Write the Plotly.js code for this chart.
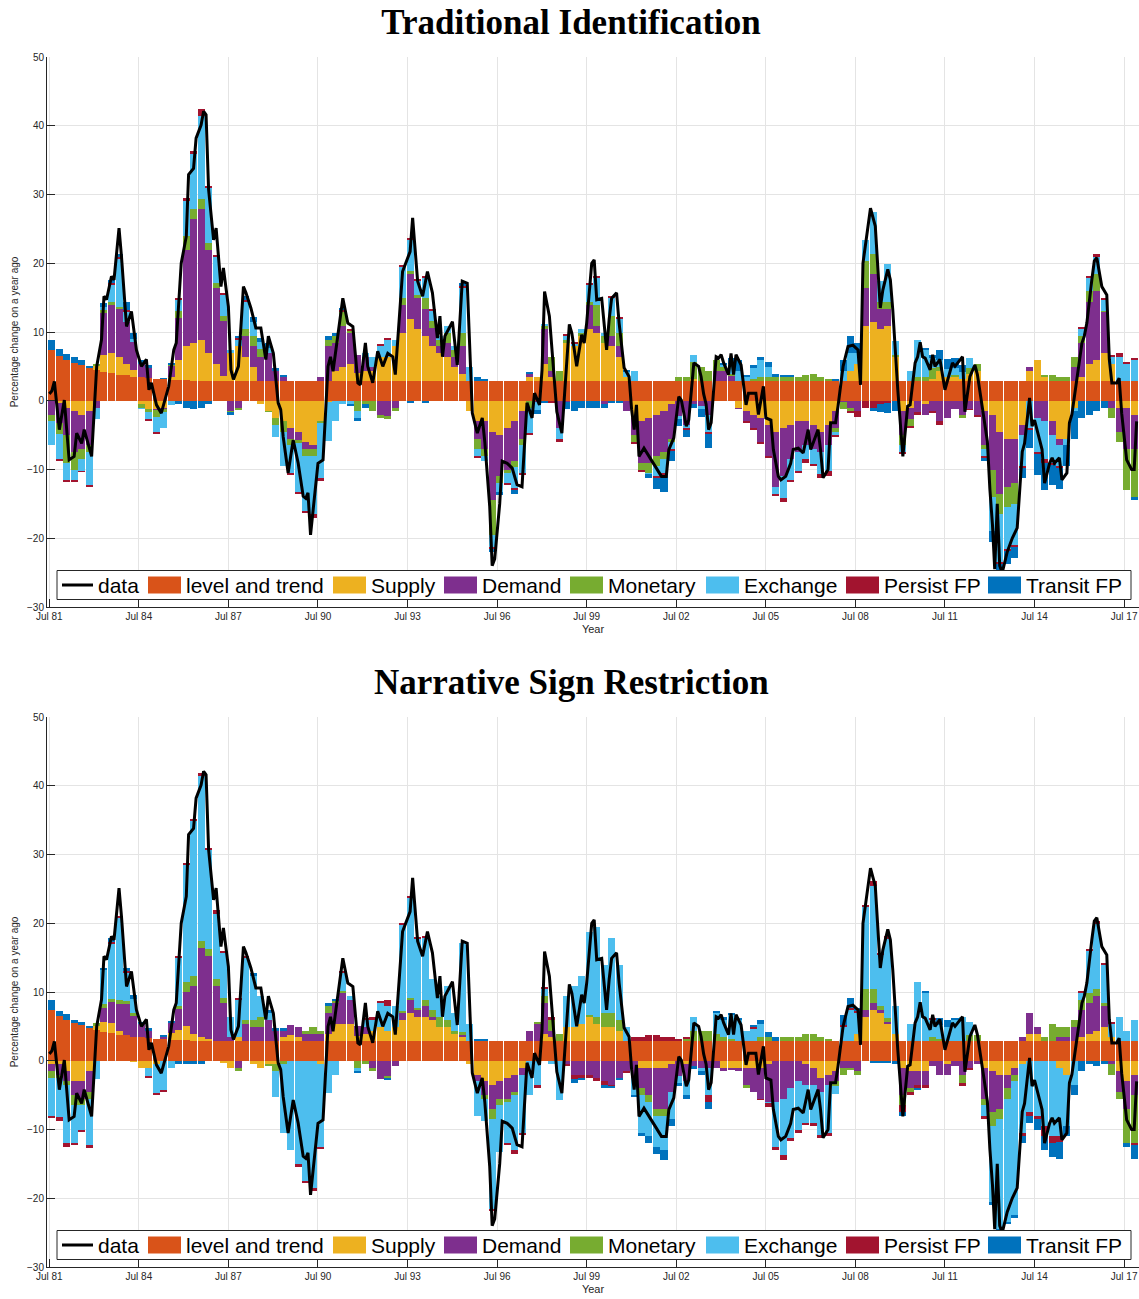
<!DOCTYPE html>
<html><head><meta charset="utf-8">
<script src="https://cdn.plot.ly/plotly-3.0.1.min.js"></script>
<style>html,body{margin:0;padding:0;background:#fff}#chart{width:1139px;height:1299px}</style>
</head><body><div id="chart"></div>
<script>
// ---------- DATA (quarterly, starting Jul 1981) ----------
const tickLabels = ['Jul 81','Jul 84','Jul 87','Jul 90','Jul 93','Jul 96','Jul 99','Jul 02','Jul 05','Jul 08','Jul 11','Jul 14','Jul 17'];
const seriesNames = ['level and trend','Supply','Demand','Monetary','Exchange','Persist FP','Transit FP'];
const seriesColors = ['#D95319','#EDB120','#7E2F8E','#77AC30','#4DBEEE','#A2142F','#0072BD'];

const levelTrend = [7.4,6.5,6.0,5.5,5.2,4.8,4.5,4.2,4.0,3.8,
3.7,3.5,3.4,3.3,3.2,3.1,3.0,3.0,3.0,2.9,
2.9,2.9,2.9,2.9,2.9,2.9,2.9,2.9,2.9,2.9,
2.9,2.9,2.9,2.9,2.9,2.9,2.9,2.9,2.9,2.9,
2.9,2.9,2.9,2.9,2.9,2.9,2.9,2.9,2.9,2.9,
2.9,2.9,2.9,2.9,2.9,2.9,2.9,2.9,2.9,2.9,
2.9,2.9,2.9,2.9,2.9,2.9,2.9,2.9,2.9,2.9,
2.9,2.9,2.9,2.9,2.9,2.9,2.9,2.9,2.9,2.9,
2.9,2.9,2.9,2.9,2.9,2.9,2.9,2.9,2.9,2.9,
2.9,2.9,2.9,2.9,2.9,2.9,2.9,2.9,2.9,2.9,
2.9,2.9,2.9,2.9,2.9,2.9,2.9,2.9,2.9,2.9,
2.9,2.9,2.9,2.9,2.9,2.9,2.9,2.9,2.9,2.9,
2.9,2.9,2.9,2.9,2.9,2.9,2.9,2.9,2.9,2.9,
2.9,2.9,2.9,2.9,2.9,2.9,2.9,2.9,2.9,2.9,
2.9,2.9,2.9,2.9,2.9,2.9];

// Traditional identification
const supplyT = [0,-0.3,-1,-1.5,-2,-1.5,0.5,2.5,3,2.5,
1.7,1.0,-0.5,-1.2,-1.2,-1,0.5,3,5,5.5,
6,4,2.5,0.7,4,5,3.5,2,-0.5,-1.5,
-2.5,-3,-4,-4.5,-6,-6.5,-3,-0.2,1.5,2,
2.5,1.2,1.5,1.5,3.5,3.5,5,7,9,7.5,
6.5,5,4,3.5,2,1,-1.5,-3,-3,-4.5,
-5,-4,-3,-1.5,0.5,0.5,2.5,0.5,0,5.5,
5,6.5,7.5,7,5.5,5,3.5,0.5,-2.5,-3,
-2.5,-2,-1.5,-0.5,0,0,0.3,0,0,0,
0,0,-1,-1.5,-2,-2.5,-3.5,-4.5,-4,-3.5,
-3,-3,-3.5,-4.5,-3.5,-1.5,0,1.5,2.5,8,
8.5,7.5,8,3.5,-1.5,-1,0,-0.5,0.3,1.5,
0.5,0.5,0.3,1,1.5,-1.5,-2,-4.5,-5.5,-5.5,
-3.5,1.5,3,0.5,-3,-5.5,-5.5,-1,0.5,2.5,
3,4,2.5,-1,-1,-2];
const demandT = [-2,-3,-4,-6,-5,-5,-1,6,7,7,
6,4,2,1.5,-0.2,-0.2,1.5,6,14,18,
19,15,11,8,-1.5,-1,3,3,3.5,4,
1.5,0.5,-1.5,-1.2,-1,-0.5,0.5,5,4,6,
4.5,2.5,2,0.5,-2,-2.2,-1,4,6.5,4.5,
4,2.7,1,2,1.5,4,0,-2.5,-4,-10,
-6,-6,-5.7,-4,0.5,-0.2,5,1,-4,-0.2,
0,0,3.5,1,-0.5,1.5,1.5,-1.5,-2.5,-6,
-6.5,-6,-6,-5,-2.2,-3.5,-0.5,-0.7,-2,1.5,
1.5,0.7,-0.2,-1.5,-2,-3.5,-4.5,-8,-7,-5,
-4.5,-3.5,-3.5,-3,-3,-2.5,-0.2,-1,-1.5,5.5,
7,3,2.5,0,-3.5,-1.7,-1.7,-1.5,-1.5,-3,
-2.5,-1.2,-2,-1.2,-2,-5,-8,-9,-7,-6.5,
-1.5,0.5,-2.5,-3,-2,-1,0,2,5,9,
10,6,-1,-3.5,-6,-5];
const monetaryT = [-1,-1.5,-4,-2.5,-1.5,-1,0.3,0.5,0.3,0.3,
0,0,-0.5,-0.5,-1,-0.5,0.2,1,2,1.5,
1.5,1,0.8,0.8,-0.2,-0.3,1,1.5,1.2,-0.2,
-1,-1.5,-1,-0.5,-1,-1,-0.2,1,1,2,
0.3,-1.5,-0.5,-1.5,-0.5,-0.5,-0.5,1,0.5,0.5,
1.5,1,1,1.5,1,2,0,-1.5,-1,-5,
-1,-0.5,-1,-1,-1,0,0.5,2,1.5,0.5,
0,0.5,0.5,3,1,3,2,0,-1,-1,
-1.5,-1.5,-1,-0.5,0.5,0.5,2.5,2,1.5,1.5,
0.5,0.3,0,0,0.3,0.5,0.5,0.5,0.5,0.5,
0.5,0.8,1,0.5,0.3,-0.5,-1,-0.5,0,4,
3,1,1,0.3,-1.5,-1,0.5,0.5,1.5,0.5,
0,0.3,-0.5,0.8,1,-0.5,-4,-3,-3,-3,
0,0,0,0.3,0.8,0.5,0.5,1.5,1,1.5,
2.5,0.2,-1.5,-1.5,-6,-7];
const exchangeT = [-3.5,-3.7,-2.5,-1.5,-1.7,-4.7,-1.7,0.5,2.5,7,
1.5,0.5,-0.2,-1,-2.2,-2.2,-0.6,1.7,5,8,
12,8,3.7,3,0.5,1,4,2,1,0.8,
-1.7,-5,-4,-7,-8,-8.5,-8,-5.7,-3,-0.5,
-0.5,-1,0.5,1.5,1.5,2.5,1,4.5,4.5,2,
3,1.5,0.5,1,0.5,6.5,2,-1,-0.7,-1.7,
-1.2,-1.5,-3,-4,-3.7,-1.2,0.3,0,-1.5,0.5,
0.3,0.5,2.5,4,0.5,2.5,2,0.8,1.5,0,
-0.2,-1.5,-2,-1,-0.5,-0.5,1,-0.5,-2.5,0,
0.3,1.5,1.5,0.5,1.5,2.5,1.5,-1,-3.2,-3,
-2.7,-2,-2.2,-3.2,-3.7,-0.5,1.5,2.5,1.5,3,
6,3,5.5,2,-1,1.5,5.5,4,1.5,1,
1.2,1,1,1.5,0,-1,-5,-7,-6,-6,
-4.5,-4,-5,-5.5,-4,-3,-1,-0.5,1,2,
2.5,1.5,1,3.5,2.5,3];
const persistT = [0,-0.3,-0.3,-0.3,-0.2,-0.3,0,0,0.3,0.3,
0.3,0,0,-0.2,-0.2,0,0,0.3,0.5,0.5,
1,0.3,0.3,0.3,0,0.3,0.3,0,0,0,
0,0,-0.3,-0.3,-0.3,-0.5,-0.5,0,0,0.3,
0.3,0,0,0,0.3,0.3,0,0.3,0.3,0.3,
0.3,0.2,0,0,0,0.3,0,-0.3,0,-0.3,
0,-0.3,-0.3,-0.3,-0.3,0,0,-0.3,-0.5,0.3,
0.3,0,0.3,0.3,0,0.3,0.3,0,-0.3,-0.3,
0,-0.3,-0.3,-0.3,0,-0.3,0,0,-0.3,0,
0,0,0,-0.3,-0.3,-0.3,-0.3,-0.3,-0.5,-0.3,
-0.3,-0.5,-0.3,-0.5,-0.8,-0.3,0,-0.3,-0.8,-1,
-1,-0.5,-0.3,0,-0.3,-0.3,-0.3,0,-0.3,-0.5,
0,0,0,-0.2,-0.3,-0.3,0,-0.3,-0.3,-0.3,
-0.3,-0.3,-0.3,-0.5,-0.3,-0.3,0,0,0.3,0.3,
0.5,0.3,0.3,0.5,0.2,0.3];
const transitT = [1.5,1.0,0.8,0.8,0.8,0.3,0,0.5,0.5,0.5,
1.2,0.8,0.5,0.4,0,0.2,0.3,-0.5,-1,-1.2,
-1,-0.5,-0.1,0,-0.3,0.2,0.5,0.8,0.5,0.7,
0.3,0.3,0,0,0,0,0,0.5,0.4,0.3,
-0.3,-0.5,-0.5,0,0,0,0,0,-0.3,0,
-0.3,0,0,0,0,0.5,0,0.5,0.3,-0.5,
-0.5,0,-0.5,0,0.3,-0.5,-0.3,0,0,-1,
-1.5,-1,-1,-1,-0.5,-0.3,-0.3,0.3,0,0,
-0.5,-1.5,-2.5,-1.5,-1,-1,-0.5,-1.2,-2,0,
0.3,0.8,1.5,0.3,0.5,0.5,0.8,0.5,0.3,0.3,
0,0,0,0,0,0.3,1.5,2.5,1.5,0,
-0.5,-1.2,-1.5,-1.5,0,0,0,0.3,0.5,1.5,
1.5,1.5,1,0,0,-0.5,-1.5,-1.5,-2,-1.5,
-1.5,-2.5,-3,-4,-3,-3,-3,-4,-2.5,-2,
-1.5,-1,0,0,0,-0.5];

// Narrative sign restriction
const supplyN = [-0.5,-0.5,-1.5,-3,-3,-1.5,0.5,1.5,1.5,0.5,
0,-0.2,-1,-1,-0.5,0,1,1.5,2,1,
0.5,0.3,0,-0.3,-1,0.5,0,-0.5,-1,-0.5,
-0.5,0.5,0.8,0.5,0,0,-0.5,1,2.5,2.5,
2.5,0.7,1,1.5,2,1.5,2,3,4,3.5,
3.5,3,2,2,1,0.5,-0.5,-2,-3,-3.5,
-3,-2.5,-2,-1,0,0,1,0.5,0,2,
2,2.5,3.5,2.5,2,2,1.5,0,0,-1,
-1,-1,-1,-0.5,0,-0.5,0,0,0,0,
-1,-1,-1,-1,-1,-1,-0.5,0,0,0,
0,-0.5,-1,-2.5,-2,-1.5,0,0,1,3.5,
4.5,4,2.5,1,-1,-1.5,-1.5,-1.5,0,0,
-0.5,0,0,0,0,-1,-1.5,-2,-2,-1,
-0.5,1,1,0,0,-1,-2,0,0.5,1,
1.5,2,0.5,-1.5,-3,-2];
const demandN = [-1,-1.5,-1.5,-2,-2.5,-3,0,2,3,4,
4.5,3,2,1,0,0.3,1.5,3,5,7,
13,12,8,5.5,0.5,-1,2.5,2,2,3,
1.5,1,1.5,1.5,1,1,1,3,3,4.5,
3.5,1.5,1,-1,-2.7,-2.2,-0.7,1,2,1,
1.5,0.5,0,0,0,0.3,0,-1,-2,-3.5,
-2.5,-3,-2.5,-1,1.5,2.5,4.5,1,0,-0.5,
-2,-2,-2,-2.5,-3,-3.5,-2.5,-1.5,-2.5,-3,
-4,-6,-6,-4,-2.2,-2.5,-0.7,-1,-1,-1,
-0.5,-0.3,-0.5,-2.5,-3.5,-4.5,-5.5,-6,-5.5,-4,
-3,-3,-2.5,-2,-1.5,-1.5,-1,-1,-1.5,1,
1,0.5,0.3,0,-4,-2.5,-2,-2,-0.8,-2,
-1.5,-0.8,-2,-1,-0.5,-4.5,-6,-5,-2,-1,
0.5,3,1,0,0,0.5,0.5,2,4,4.5,
5,3,-0.5,-3,-4,-3];
const monetaryN = [-1,-0.5,-0.5,-1.5,-1,-1,0.5,0.5,0.5,0.5,
0.5,0.5,0,0,0,0,0,0.5,1.5,1.5,
1,1,1,0.8,0,-0.5,0.5,1,1.5,-0.2,
-1,-0.5,0,0,0.5,1,0.5,1,0.3,0.3,
0,-1,-0.5,-0.5,0,-0.3,0,0.3,0.3,0.3,
1,1,1.5,1,0.5,0.5,0,0,-0.5,-1.5,
-1,-0.5,-0.5,0,0,0.3,1,1.5,1,0,
0,0,0.3,1,2,2,1.5,0,0,-1,
-1,-1,-1,0,0,0.3,1.5,1.5,1.5,1,
0.5,0.3,0,-0.5,0,0.5,0.5,0,0.5,0.5,
0.5,1,1,0.5,0.3,-0.7,-1,-0.3,-0.5,3,
2,0.5,0.5,0,-1.5,-0.5,0,0,0.5,0.3,
0,0,-1.2,0.8,0.8,-1,-2,-1.5,-1.5,-1,
0,0,0,0.5,2.5,1.5,1.5,1,1.5,1.5,
1,0.5,-1.5,-1,-5,-7];
const exchangeN = [-5.5,-5.7,-8.5,-5.5,-3.5,-6.7,-2.7,5,8,12,
4,2,0,-1.2,-4.2,-4.2,-1,7,17,22.5,
24,14.5,9.5,6.5,3,5.5,9,6.5,3,1,
-3.7,-10,-13,-15,-17.5,-18.5,-12,-4.7,-2,2.5,
0.5,-0.5,1,1.5,3.5,3.5,3,12.5,14.5,10,
9,4.5,3,5,2.5,13,2.5,-5,-3.2,-13,
-6.7,-6,-8,-8.5,-5,-3.5,1,-0.5,-5.7,4.5,
6,7,12,13,7,11,8,2,-2.5,-5.5,
-5,-4.5,-5,-4,-1,-2,2,-0.5,-4,3,
2.5,3.5,3,1.5,1.7,2,-0.2,-6.5,-8.2,-7.2,
-7,-5.5,-5.5,-6.3,-7,-1.2,2,4.5,3,12,
15,7.5,11.5,4,0,2.5,8.5,7,2.5,2,
2,3,3.5,2,0,-1.5,-11,-16,-18,-19.5,
-10,-7.5,-8,-9.5,-11,-10,-7.5,-3.5,1,6,
9.5,5.5,2,3.5,1.5,3];
const persistN = [-0.3,-0.5,-0.5,-0.3,-0.3,-0.5,0,0,0.3,0.3,
0.3,0,0,-0.3,-0.3,-0.3,0,0.3,0.3,0.3,
0.5,0.3,0.5,0.3,0,0.3,0.3,0,0,0,
0,0,0,-0.5,-0.3,-0.5,-0.3,0,0,0.3,
0,0,0.3,0.5,0.3,1,0,0.3,0.3,0.3,
0.3,0,0,0,0,0,0,0,0,-0.3,
0,-0.3,-0.5,-0.3,0,-0.5,0.3,0.5,0,-0.2,
-0.7,-0.5,-0.5,-0.5,-0.5,-0.2,0,-0.3,0.5,0.5,
0.8,0.8,0.5,0.5,0.2,0.3,0,0,-1,0,
0,0,0,0,0.3,-0.2,-0.5,-0.5,-0.8,-0.5,
-0.5,-0.3,-0.5,-0.5,-0.5,0,0.3,0.3,0.3,0.3,
0.8,0.3,0.5,0,-1,-0.5,-0.5,-0.5,0.3,0,
0,0,-0.5,-0.3,0,-0.5,0,0,0,0,
-0.5,-0.5,-0.5,-1.5,-1,-0.8,0,0,0.3,0.3,
0.5,0.3,0.3,0,0,-0.3];
const transitN = [1.5,0.7,0.8,0.5,0.5,0.3,0,0.3,0.5,0,
0.5,0.5,0.3,0.4,0,0.3,0.3,-0.5,-0.5,-0.5,
-0.5,0,0,0,0,0,0,0.3,0,0.5,
0.3,0.3,0,0,0,0,0,0.5,0.3,0,
0,-0.3,0,0,0,-0.3,0,0,0,0,
0,0,0,0,0,0,0,0.3,0.3,0,
0,0,0,0,0,0,0,0,0,0,
-0.5,-0.3,0,0,-0.5,-0.3,-0.3,0,-0.3,-0.5,
-1,-1,-1.5,-1,-0.5,-0.5,-0.5,-0.5,-1,0.3,
0.5,0.3,0.3,0,0.3,0.5,0.8,0.5,0,0,
0,0,0,0,0,0,1.5,1.5,0.5,0,
-0.3,-0.3,-0.3,-0.5,-0.5,0,-0.3,0.3,0,1,
1,0.3,0,0,0,0,-0.5,-0.5,-0.3,-0.3,
-1,-1,-1.5,-2,-2,-2.5,-1.5,-1.5,-1.5,-0.5,
-0.8,-0.5,0,0,-0.5,-2];

// observed data (months since Jul 1981, % change on a year ago)
const dataMonths = [0,1,2,4,6,8,10,11,13,14,17,19,21,22,23,25,26,28,29,31,33,35,37,39,40,41,43,45,48,50,51,53,55,56,58,59,61,62,63,64,66,67,69,70,72,73,74,76,78,79,81,83,85,87,88,90,92,93,94,96,98,100,102,103,104,105,108,110,112,113,114,116,118,120,122,124,125,127,128,130,132,134,136,138,139,142,145,146,148,150,152,154,156,157,158,159,162,164,166,168,170,172,174,175,177,178,179,181,182,184,186,188,190,192,194,195,197,198,199,201,202,204,206,208,209,210,212,214,215,216,218,219,220,222,224,225,226,228,229,231,233,234,235,236,237,239,241,242,244,246,248,249,251,253,254,256,257,259,261,262,263,264,265,266,268,269,270,271,273,274,275,276,278,280,281,284,285,287,288,290,291,293,294,296,298,299,301,303,305,306,309,310,311,313,314,316,317,319,321,323,325,326,327,329,330,332,333,334,335,337,338,339,341,343,345,346,348,349,350,351,352,354,355,356,358,360,363,364,367,368,370,372,373,375,377,378,379,380,381,382,383,385,387,389,390,391,392,394,395,396,398,399,400,402,403,404,406,407,409,410,411,413,415,416,417,419,420,421,423,425,426,427,429,430,431,433,435,436,437];
const dataValues = [1.0,1.4,2.8,-4.2,0.1,-8.6,-8.1,-4.7,-6.2,-4.2,-8.1,5.0,8.9,15.2,14.7,18.1,17.6,25.1,21.0,10.8,13.0,7.4,5.0,6.0,1.6,2.6,-0.6,-1.8,2.1,7.4,8.4,20.0,23.9,32.9,33.8,38.2,40.1,42.1,41.6,30.7,23.4,25.1,16.6,19.3,13.7,4.5,3.1,5.0,16.6,15.7,13.5,10.6,10.6,6.0,9.4,6.9,-0.3,-1.3,-5.2,-10.5,-5.7,-9.1,-13.9,-14.2,-13.4,-19.5,-9.1,-8.6,5.0,6.4,4.3,9.4,14.9,11.3,10.8,2.6,2.3,8.4,5.0,2.6,7.2,5.0,6.9,6.4,3.8,18.8,21.7,26.6,17.4,15.2,18.8,15.7,9.1,12.3,6.4,9.4,11.5,5.2,17.4,17.1,-1.8,-4.7,-2.5,-6.0,-15.4,-24.0,-23.0,-15.0,-8.8,-9.1,-9.8,-12.2,-12.5,-0.3,-2.5,1.1,-0.6,4.5,15.9,12.3,7.4,-1.6,-4.7,6.0,11.1,9.8,5.0,9.6,8.4,11.3,20.0,20.5,14.7,14.9,7.4,11.8,14.9,15.7,11.3,4.8,3.5,-1.3,-4.2,-0.6,-8.1,-6.9,-8.1,-8.6,-10.0,-11.0,-11.0,-7.1,-5.4,0.6,0.1,-3.7,-2.8,5.5,5.0,3.5,1.0,-0.5,-4.2,-3.2,6.4,6.2,6.7,5.5,3.8,6.9,3.8,6.7,5.2,-0.6,1.1,1.1,-2.0,2.1,-2.5,-2.8,-7.1,-11.0,-11.5,-11.0,-9.1,-7.1,-6.9,-7.6,-4.2,-7.1,-4.2,-7.1,-11.2,-10.0,-3.2,-3.2,-0.8,5.0,7.9,8.1,7.4,2.3,20.0,24.9,28.0,25.4,19.5,13.5,16.1,19.1,17.6,13.2,1.6,-8.1,-0.8,-0.6,5.5,6.4,8.5,6.4,6.2,4.5,6.7,5.0,6.0,1.6,5.5,5.0,6.4,-1.6,3.5,5.2,3.8,-1.3,-5.9,-12.9,-18.0,-24.5,-15.0,-24.0,-25.0,-22.0,-20.0,-18.5,-12.0,-7.4,-6.2,0.4,-3.7,-2.8,-5.7,-7.1,-12.0,-9.1,-8.3,-9.1,-8.3,-11.5,-10.5,-3.2,-2.0,3.1,8.4,9.4,11.3,17.6,20.3,20.8,16.6,15.4,6.0,2.6,2.6,3.3,-1.8,-8.6,-10.0,-10.0,-3.0];

// ---------- BUILD ----------
const W = 1139, H = 1299, ML = 47;
const allArrays = {levelTrend,supplyT,demandT,monetaryT,exchangeT,persistT,transitT,supplyN,demandN,monetaryN,exchangeN,persistN,transitN};
for (const k in allArrays) if (allArrays[k].length !== levelTrend.length) throw new Error(k + ' has length ' + allArrays[k].length);
if (dataMonths.length !== dataValues.length) throw new Error('data line lengths ' + dataMonths.length + ' vs ' + dataValues.length);

function monthDate(m) { const d = new Date(Date.UTC(1981, 6 + m, 1)); return d.toISOString().slice(0, 10); }
const quarterX = levelTrend.map((_, q) => monthDate(3 * q + 1));
const barWidth = 0.94 * 3 * 30.44 * 86400000;
const tickVals = tickLabels.map((_, i) => monthDate(36 * i));
const lineX = dataMonths.map(monthDate);

const panelSeries = [
  [levelTrend, supplyT, demandT, monetaryT, exchangeT, persistT, transitT],
  [levelTrend, supplyN, demandN, monetaryN, exchangeN, persistN, transitN]
];
const traces = [];
panelSeries.forEach((series, p) => {
  const xa = p === 0 ? 'x' : 'x2', ya = p === 0 ? 'y' : 'y2';
  series.forEach((vals, i) => {
    traces.push({type: 'bar', x: quarterX, y: vals, width: barWidth, name: seriesNames[i],
      marker: {color: seriesColors[i], line: {width: 0}}, xaxis: xa, yaxis: ya,
      showlegend: false, hoverinfo: 'skip'});
  });
  traces.push({type: 'scatter', mode: 'lines', x: lineX, y: dataValues, name: 'data',
    line: {color: '#000000', width: 3}, xaxis: xa, yaxis: ya, showlegend: false, hoverinfo: 'skip'});
});

const px = v => (v - ML) / (W - ML);
const py = v => 1 - v / H;
const fontSans = 'Liberation Sans, Arial, Helvetica, sans-serif';
const fontSerif = 'Liberation Serif, Times New Roman, serif';
const axisCommon = {showline: true, linecolor: '#262626', linewidth: 1, ticks: 'inside', ticklen: 8,
  tickcolor: '#262626', tickwidth: 1, tickfont: {family: fontSans, size: 10, color: '#262626'},
  showgrid: true, gridcolor: '#e4e4e4', gridwidth: 1, zeroline: false, automargin: false, fixedrange: true};
const xRange = ['1981-06-03', '2017-12-30'];
const panels = [{top: 57, bottom: 607, title: 'Traditional Identification', titleY: 22, legY: 585},
                {top: 717, bottom: 1267, title: 'Narrative Sign Restriction', titleY: 682, legY: 1245}];

const layout = {
  width: W, height: H, margin: {l: ML, r: 0, t: 0, b: 0}, paper_bgcolor: '#ffffff', plot_bgcolor: '#ffffff',
  barmode: 'relative', bargap: 0, showlegend: false,
  font: {family: fontSans, color: '#262626'},
  title: {text: '<b>' + panels[0].title + '</b>', xref: 'paper', x: px(571), xanchor: 'center',
    yref: 'container', y: py(panels[0].titleY), yanchor: 'middle',
    font: {family: fontSerif, size: 35, color: '#000000'}},
  xaxis: Object.assign({}, axisCommon, {type: 'date', range: xRange, tickmode: 'array', tickvals: tickVals, ticktext: tickLabels,
    domain: [0, 1], anchor: 'y', title: {text: 'Year', font: {family: fontSans, size: 11, color: '#262626'}, standoff: 4}}),
  yaxis: Object.assign({}, axisCommon, {range: [-30, 50], tickmode: 'linear', tick0: 0, dtick: 10,
    domain: [py(panels[0].bottom), py(panels[0].top)], anchor: 'x',
    title: {text: 'Percentage change on a year ago', font: {family: fontSans, size: 10, color: '#262626'}, standoff: 6}}),
  xaxis2: Object.assign({}, axisCommon, {type: 'date', range: xRange, tickmode: 'array', tickvals: tickVals, ticktext: tickLabels,
    domain: [0, 1], anchor: 'y2', title: {text: 'Year', font: {family: fontSans, size: 11, color: '#262626'}, standoff: 4}}),
  yaxis2: Object.assign({}, axisCommon, {range: [-30, 50], tickmode: 'linear', tick0: 0, dtick: 10,
    domain: [py(panels[1].bottom), py(panels[1].top)], anchor: 'x2',
    title: {text: 'Percentage change on a year ago', font: {family: fontSans, size: 10, color: '#262626'}, standoff: 6}}),
  shapes: [], annotations: []
};

layout.annotations.push({text: '<b>' + panels[1].title + '</b>', xref: 'paper', yref: 'paper', x: px(571), y: py(panels[1].titleY),
  xanchor: 'center', yanchor: 'middle', showarrow: false,
  font: {family: fontSerif, size: 35, color: '#000000'}});

// legend drawn as in the original (boxed, inside plot, large swatches)
const legBox = [57, 1131], legH = 29;
const swatchX = [148, 333, 444, 570, 706, 846, 988], swW = 33, swH = 17;
panels.forEach(pn => {
  const cy = pn.legY;
  layout.shapes.push({type: 'rect', xref: 'paper', yref: 'paper', x0: px(legBox[0]), x1: px(legBox[1]),
    y0: py(cy + legH / 2), y1: py(cy - legH / 2), line: {color: '#262626', width: 1}, fillcolor: '#ffffff', layer: 'above'});
  layout.shapes.push({type: 'line', xref: 'paper', yref: 'paper', x0: px(62), x1: px(93), y0: py(cy), y1: py(cy),
    line: {color: '#000000', width: 3}, layer: 'above'});
  layout.annotations.push({text: 'data', xref: 'paper', yref: 'paper', x: px(96), y: py(cy), xanchor: 'left', yanchor: 'middle',
    showarrow: false, font: {family: fontSans, size: 21, color: '#000000'}});
  seriesNames.forEach((nm, i) => {
    layout.shapes.push({type: 'rect', xref: 'paper', yref: 'paper', x0: px(swatchX[i]), x1: px(swatchX[i] + swW),
      y0: py(cy + swH / 2), y1: py(cy - swH / 2), line: {width: 0}, fillcolor: seriesColors[i], layer: 'above'});
    layout.annotations.push({text: nm, xref: 'paper', yref: 'paper', x: px(swatchX[i] + swW + 3), y: py(cy),
      xanchor: 'left', yanchor: 'middle', showarrow: false, font: {family: fontSans, size: 21, color: '#000000'}});
  });
});

Plotly.newPlot('chart', traces, layout, {displayModeBar: false, staticPlot: true});
</script>
</body></html>
